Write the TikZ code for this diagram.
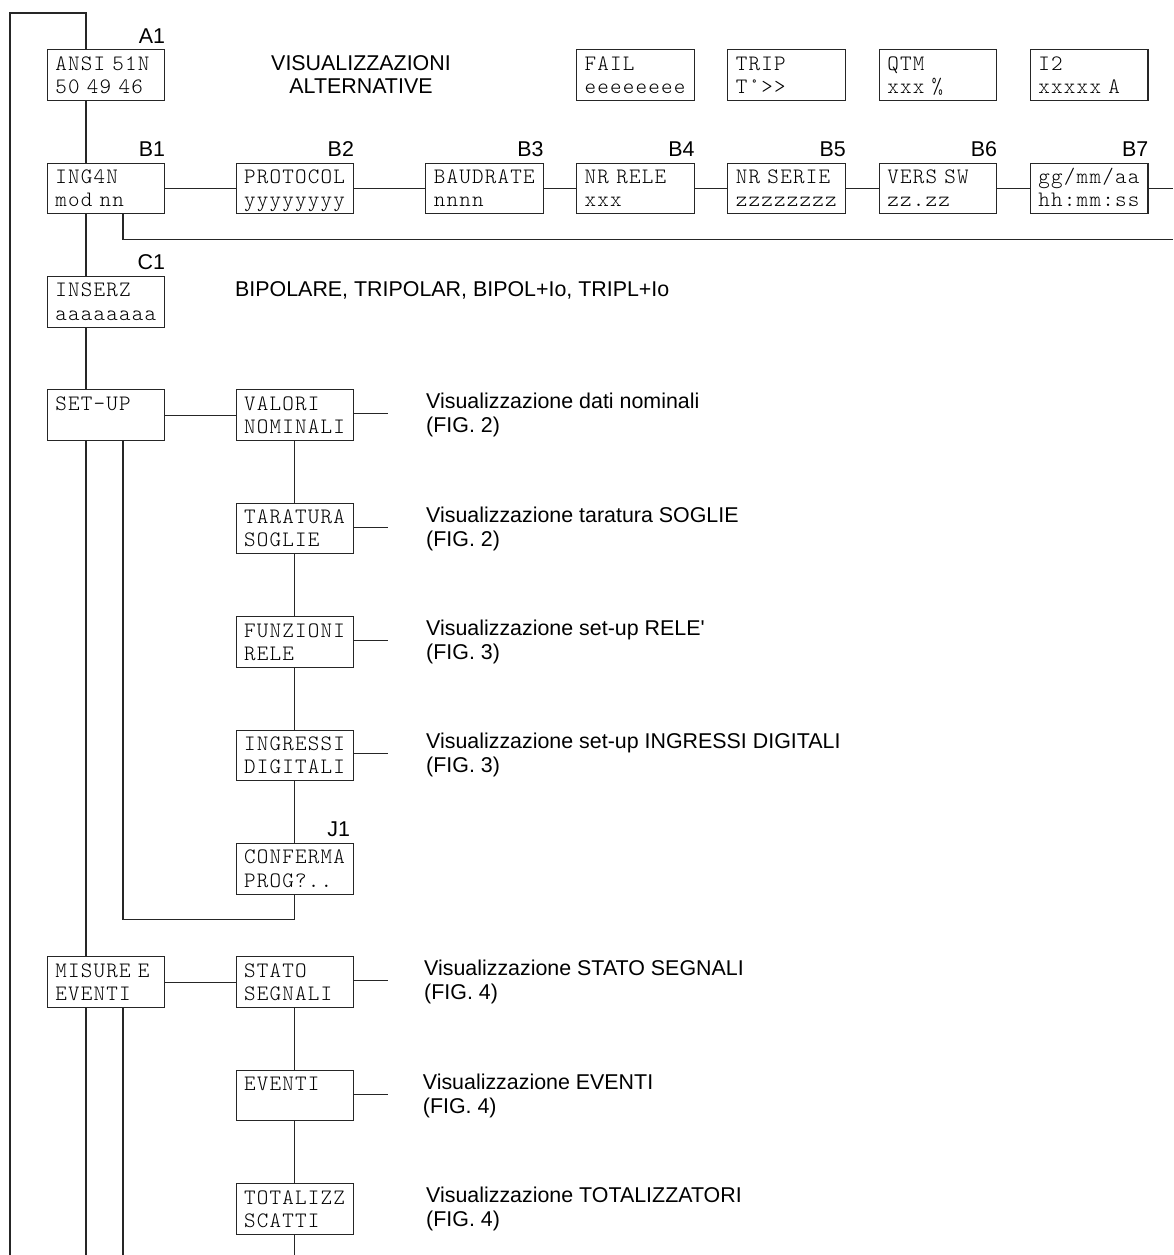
\documentclass[tikz,border=0pt]{standalone}
\usepackage{fontspec}
\setmainfont{Liberation Sans}
\newfontfamily\dispfont{lmmonolt10-regular.otf}[LetterSpace=5.5,WordSpace=1.1]
\usetikzlibrary{calc}
\newcommand{\twol}[2]{\rule{0pt}{20.3pt}\strut #1\\\strut #2}
\begin{document}
\begin{tikzpicture}[x=1pt,y=-1pt,
  disp/.style={draw=black!85, line width=1.1pt, rectangle, minimum width=117.5pt, minimum height=49.5pt,
    inner xsep=8pt, inner ysep=0pt, text width=101.5pt, align=left, font=\fontsize{22}{23.3}\dispfont},
  lbl/.style={font=\fontsize{21.4}{24}\selectfont, inner sep=0pt, anchor=base east, yshift=6pt},
  desc/.style={font=\fontsize{21.4}{24}\selectfont, inner sep=0pt, align=left, anchor=west},
  conn/.style={line width=1.1pt, draw=black!85}]
\useasboundingbox (0,0) rectangle (1173,1255);
\fill[white] (0,0) rectangle (1173,1255);

% helper coordinates
\coordinate (L1) at (86,0);
\coordinate (L2) at (123,0);
\coordinate (RE) at (1173,0);
\coordinate (BOT) at (0,1255);
\coordinate (TOPL) at (10,13);
\coordinate (XD) at (388,0);
\coordinate (LOOPY) at (0,919.3);
\coordinate (BLINE) at (0,239.3);

% row A
\node[disp] (a1) at (106,75) {\twol{ANSI 51N}{50 49 46}};
\node[disp] (fail) at (635.4,75) {\twol{FAIL}{eeeeeeee}};
\node[disp] (trip) at (786.6,75) {\twol{TRIP}{T°>>}};
\node[disp] (qtm) at (938,75) {\twol{QTM}{xxx \%}};
\node[disp] (itwo) at (1089.2,75) {\twol{I2}{xxxxx A}};
\node[font=\fontsize{21.4}{23.5}\selectfont, inner sep=0pt, align=center] (title) at (361,74.5) {VISUALIZZAZIONI\\ALTERNATIVE};

% row B
\node[disp] (b1) at (106,188.4) {\twol{ING4N}{mod nn}};
\node[disp] (b2) at (294.8,188.4) {\twol{PROTOCOL}{yyyyyyyy}};
\node[disp] (b3) at (484.5,188.4) {\twol{BAUDRATE}{nnnn}};
\node[disp] (b4) at (635.4,188.4) {\twol{NR RELE}{xxx}};
\node[disp] (b5) at (786.6,188.4) {\twol{NR SERIE}{zzzzzzzz}};
\node[disp] (b6) at (938,188.4) {\twol{VERS SW}{zz.zz}};
\node[disp] (b7) at (1089.2,188.4) {\twol{gg/mm/aa}{hh:mm:ss}};

% row C
\node[disp] (c1) at (106,301.8) {\twol{INSERZ}{aaaaaaaa}};
\node[desc] (bip) at (235,290.5) {BIPOLARE, TRIPOLAR, BIPOL+Io, TRIPL+Io};

% set-up
\node[disp] (setup) at (106,415.2) {\twol{SET-UP}{}};
\node[disp] (valori) at (294.8,415.2) {\twol{VALORI}{NOMINALI}};
\node[disp] (taratura) at (294.8,528.6) {\twol{TARATURA}{SOGLIE}};
\node[disp] (funzioni) at (294.8,642) {\twol{FUNZIONI}{RELE}};
\node[disp] (ingressi) at (294.8,755.4) {\twol{INGRESSI}{DIGITALI}};
\node[disp] (conferma) at (294.8,868.8) {\twol{CONFERMA}{PROG?..}};

% misure
\node[disp] (misure) at (106,982.2) {\twol{MISURE E}{EVENTI}};
\node[disp] (stato) at (294.8,982.2) {\twol{STATO}{SEGNALI}};
\node[disp] (eventi) at (294.8,1095.6) {\twol{EVENTI}{}};
\node[disp] (totalizz) at (294.8,1209) {\twol{TOTALIZZ}{SCATTI}};

% labels
\node[lbl] (la1) at (a1.north east) {A1};
\node[lbl] (lb1) at (b1.north east) {B1};
\node[lbl] (lb2) at (b2.north east) {B2};
\node[lbl] (lb3) at (b3.north east) {B3};
\node[lbl] (lb4) at (b4.north east) {B4};
\node[lbl] (lb5) at (b5.north east) {B5};
\node[lbl] (lb6) at (b6.north east) {B6};
\node[lbl] (lb7) at (b7.north east) {B7};
\node[lbl] (lc1) at (c1.north east) {C1};
\node[lbl, xshift=-4pt] (lj1) at (conferma.north east) {J1};

% descriptions
\node[desc] (dv) at (426,415.2) {Visualizzazione dati nominali\\(FIG. 2)};
\node[desc] (dt) at (426,528.6) {Visualizzazione taratura SOGLIE\\(FIG. 2)};
\node[desc] (df) at (426,642) {Visualizzazione set-up RELE\textquotesingle\\(FIG. 3)};
\node[desc] (di) at (426,755.4) {Visualizzazione set-up INGRESSI DIGITALI\\(FIG. 3)};
\node[desc] (ds) at (424,982.2) {Visualizzazione STATO SEGNALI\\(FIG. 4)};
\node[desc] (de) at (422.7,1095.6) {Visualizzazione EVENTI\\(FIG. 4)};
\node[desc] (dtot) at (426,1209) {Visualizzazione TOTALIZZATORI\\(FIG. 4)};

% main left spine and loop
\draw[conn] (a1.north -| L1) -- (L1 |- TOPL) -- (TOPL) -- (TOPL |- BOT);
\draw[conn] (a1.south -| L1) -- (b1.north -| L1);
\draw[conn] (b1.south -| L1) -- (c1.north -| L1);
\draw[conn] (c1.south -| L1) -- (setup.north -| L1);
\draw[conn] (setup.south -| L1) -- (misure.north -| L1);
\draw[conn] (misure.south -| L1) -- (L1 |- BOT);
\draw[conn] (misure.south -| L2) -- (L2 |- BOT);

% B row
\draw[conn] (b1.south -| L2) -- (L2 |- BLINE) -- (RE |- BLINE);
\draw[conn] (b1.east) -- (b2.west);
\draw[conn] (b2.east) -- (b3.west);
\draw[conn] (b3.east) -- (b4.west);
\draw[conn] (b4.east) -- (b5.west);
\draw[conn] (b5.east) -- (b6.west);
\draw[conn] (b6.east) -- (b7.west);
\draw[conn] (b7.east) -- (RE |- b7.east);

% set-up branch
\draw[conn] (setup.east) -- (valori.west);
\draw[conn] (valori.south) -- (taratura.north);
\draw[conn] (taratura.south) -- (funzioni.north);
\draw[conn] (funzioni.south) -- (ingressi.north);
\draw[conn] (ingressi.south) -- (conferma.north);
\draw[conn] (setup.south -| L2) -- (L2 |- LOOPY) -- (conferma.south |- LOOPY) -- (conferma.south);
\draw[conn] ([yshift=1.7pt]valori.east) -- ([yshift=1.7pt]valori.east -| XD);
\draw[conn] ([yshift=1.4pt]taratura.east) -- ([yshift=1.4pt]taratura.east -| XD);
\draw[conn] ([yshift=1.7pt]funzioni.east) -- ([yshift=1.7pt]funzioni.east -| XD);
\draw[conn] ([yshift=1.7pt]ingressi.east) -- ([yshift=1.7pt]ingressi.east -| XD);

% misure branch
\draw[conn] (misure.east) -- (stato.west);
\draw[conn] (stato.south) -- (eventi.north);
\draw[conn] (eventi.south) -- (totalizz.north);
\draw[conn] (totalizz.south) -- (totalizz.south |- BOT);
\draw[conn] ([yshift=1.6pt]stato.east) -- ([yshift=1.6pt]stato.east -| XD);
\draw[conn] ([yshift=1.1pt]eventi.east) -- ([yshift=1.1pt]eventi.east -| XD);
\end{tikzpicture}
\end{document}
